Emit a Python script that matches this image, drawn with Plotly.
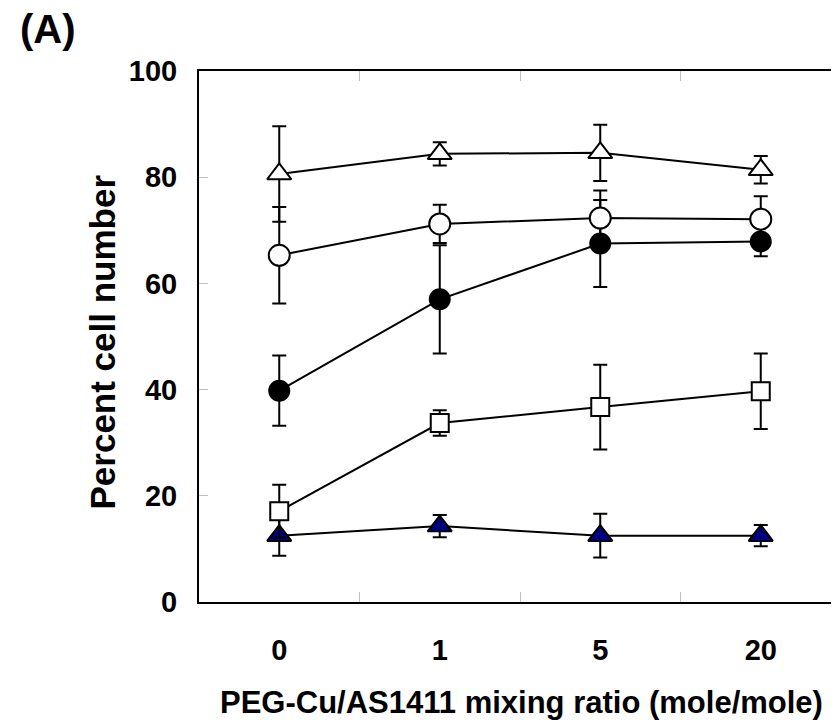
import plotly.graph_objects as go

categories = ["0", "1", "5", "20"]

open_tri = [80.6, 84.4, 84.6, 81.4]
open_tri_err = [9.0, 2.2, 5.3, 2.6]

open_circ = [65.3, 71.2, 72.3, 72.1]
open_circ_err = [9.1, 3.6, 5.2, 4.3]

filled_circ = [39.8, 57.0, 67.5, 67.9]
filled_circ_err = [6.6, 10.2, 8.2, 2.8]

open_sq = [17.1, 33.7, 36.7, 39.7]
open_sq_err = [5.0, 2.4, 8.0, 7.1]

navy_tri = [12.5, 14.3, 12.5, 12.5]
navy_tri_err = [3.8, 2.1, 4.1, 2.0]

FONT = "Liberation Sans, Arial, sans-serif"

series = [
    (navy_tri, navy_tri_err, "triangle-up", "#000080", 21),
    (open_sq, open_sq_err, "square", "white", 18),
    (filled_circ, filled_circ_err, "circle", "black", 20),
    (open_circ, open_circ_err, "circle", "white", 21),
    (open_tri, open_tri_err, "triangle-up", "white", 21),
]

fig = go.Figure()
for vals, errs, sym, fill, size in series:
    fig.add_trace(go.Scatter(
        x=categories, y=vals,
        mode="lines+markers",
        line=dict(color="black", width=2),
        marker=dict(symbol=sym, size=size, color=fill,
                    line=dict(color="black", width=2)),
        error_y=dict(type="data", array=errs, visible=True,
                     color="black", thickness=2, width=7),
        showlegend=False,
    ))

fig.update_layout(
    width=839, height=720,
    margin=dict(l=191, r=4, t=63, b=126),
    paper_bgcolor="white", plot_bgcolor="white",
    font=dict(family=FONT, color="black"),
    xaxis=dict(
        type="category", range=[-0.5, 3.5],
        showline=True, linecolor="black", linewidth=2, mirror="ticks",
        ticks="inside", tickson="boundaries", ticklen=10,
        tickcolor="#c0c0c0", tickwidth=1,
        showgrid=False, zeroline=False,
        tickfont=dict(family=FONT, size=29, color="black", weight="bold"),
        ticklabelstandoff=21,
    ),
    yaxis=dict(
        range=[0, 100], tickvals=[0, 20, 40, 60, 80, 100],
        showline=True, linecolor="black", linewidth=2, mirror="ticks",
        ticks="inside", ticklen=9, tickcolor="#c0c0c0", tickwidth=1,
        showgrid=False, zeroline=False,
        tickfont=dict(family=FONT, size=29, color="black", weight="bold"),
        ticklabelstandoff=14,
    ),
    annotations=[
        dict(text="<b>PEG-Cu/AS1411 mixing ratio (mole/mole)</b>",
             xref="paper", yref="paper", x=0.502, y=-0.19,
             xanchor="center", yanchor="middle", showarrow=False,
             font=dict(family=FONT, size=31, color="black")),
        dict(text="<b>Percent cell number</b>",
             xref="paper", yref="paper", x=-0.15, y=0.49,
             xanchor="center", yanchor="middle", showarrow=False,
             textangle=-90,
             font=dict(family=FONT, size=35, color="black")),
        dict(text="<b>(A)</b>",
             xref="paper", yref="paper", x=-0.235, y=1.08,
             xanchor="center", yanchor="middle", showarrow=False,
             font=dict(family=FONT, size=40, color="black")),
    ],
)

fig.write_html("out.html")
